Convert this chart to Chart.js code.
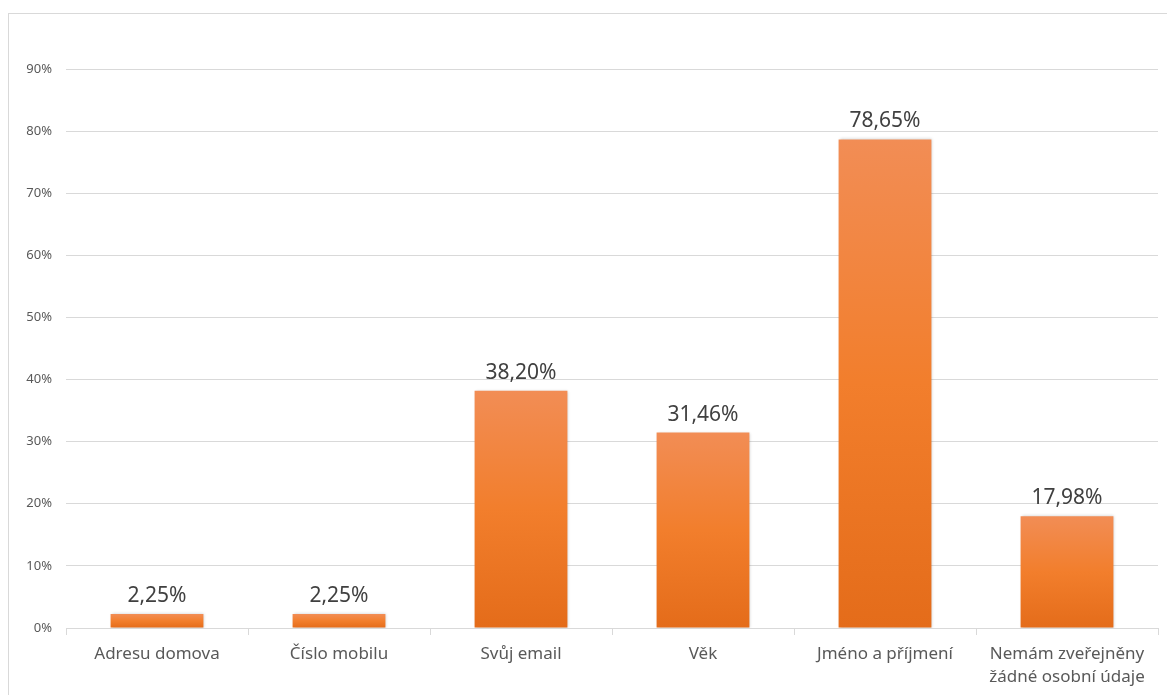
<!DOCTYPE html>
<html>
<head>
<meta charset="utf-8">
<script src="https://cdn.jsdelivr.net/npm/chart.js@4.4.0/dist/chart.umd.min.js"></script>
<style>
  html, body { margin: 0; padding: 0; background: #ffffff; overflow: hidden; }
  #frame { position: absolute; left: 8px; top: 13px; width: 1200px; height: 720px; border: 1px solid #d9d9d9; box-sizing: border-box; }
  #wrap { position: absolute; left: 0; top: 0; width: 1167px; height: 695px; }
</style>
</head>
<body>
<div id="frame"></div>
<div id="wrap"><canvas id="c" width="1167" height="695"></canvas></div>
<script>
const categories = ['Adresu domova', 'Číslo mobilu', 'Svůj email', 'Věk', 'Jméno a příjmení', ['Nemám zveřejněny', 'žádné osobní údaje']];
const values = [2.25, 2.25, 38.20, 31.46, 78.65, 17.98];
const yTicks = [0, 10, 20, 30, 40, 50, 60, 70, 80, 90];

const FONT = '"Noto Sans", "Open Sans", sans-serif';

function barGradient(ctx) {
  const chart = ctx.chart;
  const area = chart.chartArea;
  if (!area || ctx.dataIndex === undefined) return '#F07C2A';
  const ys = chart.scales.y;
  const top = ys.getPixelForValue(values[ctx.dataIndex]);
  const bottom = ys.getPixelForValue(0);
  if (!isFinite(top) || !isFinite(bottom) || bottom - top < 1) return '#F07C2A';
  const g = chart.ctx.createLinearGradient(0, top, 0, bottom);
  g.addColorStop(0, '#F28D55');
  g.addColorStop(0.5, '#F27E2C');
  g.addColorStop(1, '#E46C1A');
  return g;
}

const shadowPlugin = {
  id: 'barShadow',
  beforeDatasetDraw(chart) {
    const c = chart.ctx;
    c.save();
    c.shadowColor = 'rgba(0,0,0,0.22)';
    c.shadowBlur = 3;
    c.shadowOffsetX = 1;
    c.shadowOffsetY = 0;
  },
  afterDatasetDraw(chart) {
    chart.ctx.restore();
  }
};

const labelPlugin = {
  id: 'valueLabels',
  afterDatasetsDraw(chart) {
    const c = chart.ctx;
    const meta = chart.getDatasetMeta(0);
    c.save();
    c.font = '21px ' + FONT;
    c.fillStyle = '#404040';
    c.textAlign = 'center';
    c.textBaseline = 'middle';
    meta.data.forEach((bar, i) => {
      const txt = values[i].toFixed(2).replace('.', ',') + '%';
      c.fillText(txt, bar.x, bar.y - 18);
    });
    c.restore();
  }
};

new Chart(document.getElementById('c'), {
  type: 'bar',
  data: {
    labels: categories,
    datasets: [{
      data: values,
      backgroundColor: barGradient,
      borderWidth: 0,
      categoryPercentage: 1.0,
      barPercentage: 0.51
    }]
  },
  options: {
    responsive: false,
    animation: false,
    events: [],
    layout: { padding: { top: 69, right: 9, bottom: 0, left: 0 } },
    plugins: { legend: { display: false }, tooltip: { enabled: false } },
    scales: {
      x: {
        grid: { display: true, drawOnChartArea: false, drawTicks: true, tickLength: 7, color: '#d9d9d9', offset: true },
        border: { display: true, color: '#d9d9d9', width: 1 },
        ticks: {
          color: '#595959',
          font: { family: FONT, size: 17, lineHeight: 1.35 },
          padding: 8,
          maxRotation: 0,
          autoSkip: false
        },
        afterFit(scale) { scale.height = 67; }
      },
      y: {
        min: 0,
        max: 90,
        afterBuildTicks(scale) { scale.ticks = yTicks.map(v => ({ value: v })); },
        grid: { color: '#d9d9d9', drawTicks: false, lineWidth: 1 },
        border: { display: false },
        ticks: {
          color: '#595959',
          font: { family: FONT, size: 13 },
          padding: 14,
          callback: v => v + '%'
        },
        afterFit(scale) { scale.width = 66; }
      }
    }
  },
  plugins: [shadowPlugin, labelPlugin]
});
</script>
</body>
</html>
